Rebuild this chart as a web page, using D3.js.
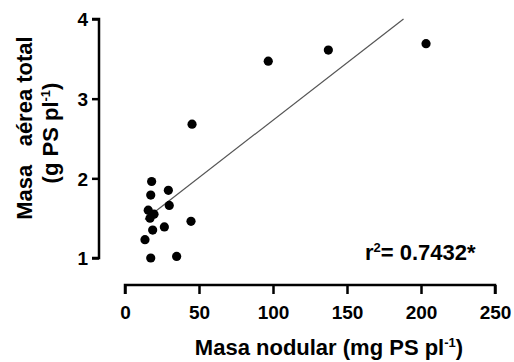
<!DOCTYPE html>
<html><head><meta charset="utf-8">
<script src="https://cdn.jsdelivr.net/npm/d3@7"></script>
<style>body{margin:0;background:#fff}svg{display:block}text{font-family:"Liberation Sans",Arial,sans-serif;font-weight:bold}</style>
</head><body><div id="c"></div>
<script>
const nodularMass = [96.8, 45.3, 137.4, 203.4, 18.0, 29.3, 17.4, 29.9, 15.7, 19.6, 16.9, 44.6, 26.6, 18.7, 13.5, 17.4, 34.9];
const aerialMass  = [3.47, 2.68, 3.61, 3.69, 1.96, 1.85, 1.79, 1.66, 1.60, 1.55, 1.50, 1.46, 1.39, 1.35, 1.23, 1.00, 1.02];
const xTicks = [0, 50, 100, 150, 200, 250];
const yTicks = [1, 2, 3, 4];
const fitSlope = 0.0144, fitIntercept = 1.29;
const r2Label = "0.7432*";

const W = 514, H = 362;
const svg = d3.select("#c").append("svg").attr("width", W).attr("height", H);
const x = d3.scaleLinear().domain([0, 250]).range([125, 495]);
const y = d3.scaleLinear().domain([1, 4]).range([258, 19]);
const FF = "Liberation Sans, Arial, sans-serif";

// Y axis
const gy = svg.append("g").attr("transform", "translate(99,0)")
  .call(d3.axisLeft(y).tickValues(yTicks).tickSize(7).tickPadding(4).tickFormat(d3.format("d")));
gy.select(".domain").attr("stroke", "#000").attr("stroke-width", 2.5).attr("d", `M-7,${y(4)}H0V${y(1)}H-7`);
gy.selectAll(".tick line").attr("stroke", "#000").attr("stroke-width", 2.5);
gy.selectAll(".tick text").attr("font-size", 19).attr("font-family", FF).attr("font-weight", "bold").attr("fill", "#000").attr("dy", "0.36em");

// X axis
const gx = svg.append("g").attr("transform", "translate(0,285)")
  .call(d3.axisBottom(x).tickValues(xTicks).tickSize(9).tickPadding(12));
gx.select(".domain").attr("stroke", "#000").attr("stroke-width", 2.5).attr("d", `M${x(0)},9V0H${x(250)}V9`);
gx.selectAll(".tick line").attr("stroke", "#000").attr("stroke-width", 2.5);
gx.selectAll(".tick text").attr("font-size", 19).attr("font-family", FF).attr("font-weight", "bold").attr("fill", "#000");

// Regression line
const x0 = d3.min(nodularMass);
const x1 = (4 - fitIntercept) / fitSlope;
svg.append("line")
  .attr("x1", x(x0)).attr("y1", y(fitIntercept + fitSlope * x0))
  .attr("x2", x(x1)).attr("y2", y(fitIntercept + fitSlope * x1))
  .attr("stroke", "#555").attr("stroke-width", 1.2);

// Points
svg.append("g").selectAll("circle").data(nodularMass).join("circle")
  .attr("cx", d => x(d)).attr("cy", (d, i) => y(aerialMass[i])).attr("r", 4.6).attr("fill", "#000");

// X title
const xt = svg.append("text").attr("x", 329).attr("y", 355).attr("text-anchor", "middle").attr("font-size", 22);
xt.append("tspan").text("Masa nodular (mg PS pl");
xt.append("tspan").attr("dy", -8).attr("font-size", 13).text("-1");
xt.append("tspan").attr("dy", 8).text(")");

// Y title
const yt = svg.append("g").attr("transform", "translate(0,128) rotate(-90)");
yt.append("text").attr("x", 0).attr("y", 32).attr("text-anchor", "middle").attr("font-size", 22).attr("xml:space", "preserve").text("Masa   aérea total");
const yt2 = yt.append("text").attr("x", -5).attr("y", 58).attr("text-anchor", "middle").attr("font-size", 22);
yt2.append("tspan").text("(g PS pl");
yt2.append("tspan").attr("dy", -8).attr("font-size", 13).text("-1");
yt2.append("tspan").attr("dy", 8).text(")");

// r2 label
const rt = svg.append("text").attr("x", 365).attr("y", 260).attr("font-size", 22);
rt.append("tspan").text("r");
rt.append("tspan").attr("dy", -8).attr("font-size", 13).text("2");
rt.append("tspan").attr("dy", 8).text("= " + r2Label);
</script></body></html>
